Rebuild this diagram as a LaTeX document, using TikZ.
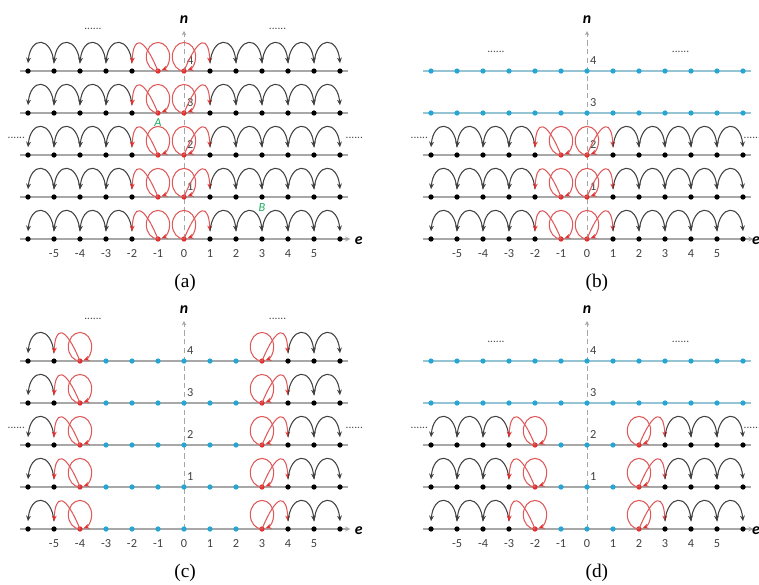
\documentclass[tikz,border=0pt]{standalone}
\usepackage{fontspec}
\setmainfont{Liberation Serif}
\newfontfamily\numfont{Carlito}
\usetikzlibrary{arrows.meta}
\definecolor{hopred}{RGB}{226,48,48}
\definecolor{loopred}{RGB}{222,90,90}
\definecolor{siteblue}{RGB}{38,166,212}
\definecolor{linegray}{RGB}{168,168,168}
\definecolor{lineblue}{RGB}{150,196,212}
\definecolor{labgreen}{RGB}{30,170,95}

\def\rs{1.615}    % row spacing
\def\lift{0.156cm} % arc ends above the sites

% row with hops: #1 panel, #2 row, #3 left red site, #4 right red site
\newcommand{\hoprow}[4]{%
  \pgfmathsetmacro\yy{#2*\rs}
  \draw[rowline] (-6.3,\yy) -- (6.3,\yy);
  \foreach \k in {-6,...,6}{
    \pgfmathtruncatemacro\i{\k+6}
    \ifnum\k<#3\relax \def\dc{black}\else
      \ifnum\k>#4\relax \def\dc{black}\else
        \ifnum\k=#3\relax \def\dc{hopred}\else
          \ifnum\k=#4\relax \def\dc{hopred}\else \def\dc{siteblue}\fi\fi\fi\fi
    \node[site=\dc] (#1#2x\i) at (\k,\yy) {};
  }
  % hops to the left
  \pgfmathtruncatemacro\lm{#3-1}
  \foreach \k in {-5,...,\lm}{
    \pgfmathtruncatemacro\i{\k+6}\pgfmathtruncatemacro\j{\k+5}
    \draw[hop] ([yshift=\lift]#1#2x\i.center) .. controls +(-0.1,1.05) and +(0.1,1.05) .. ([yshift=\lift]#1#2x\j.center);
  }
  \pgfmathtruncatemacro\i{#3+6}\pgfmathtruncatemacro\j{#3+5}
  \draw[hopr] (#1#2x\i.center) .. controls +(-0.6,1.45) and +(0.05,1.0) .. ([yshift=\lift]#1#2x\j.center);
  \draw[loopr] (#1#2x\i.center) arc[start angle=270,end angle=-72,x radius=0.45,y radius=0.55];
  % hops to the right
  \pgfmathtruncatemacro\i{#4+6}\pgfmathtruncatemacro\j{#4+7}
  \draw[hopr] (#1#2x\i.center) .. controls +(0.6,1.45) and +(-0.05,1.0) .. ([yshift=\lift]#1#2x\j.center);
  \draw[loopr] (#1#2x\i.center) arc[start angle=270,end angle=-72,x radius=0.45,y radius=0.55];
  \pgfmathtruncatemacro\rp{#4+1}
  \foreach \k in {\rp,...,5}{
    \pgfmathtruncatemacro\i{\k+6}\pgfmathtruncatemacro\j{\k+7}
    \draw[hop] ([yshift=\lift]#1#2x\i.center) .. controls +(0.1,1.05) and +(-0.1,1.05) .. ([yshift=\lift]#1#2x\j.center);
  }
}

% row of empty sites: #1 panel, #2 row
\newcommand{\siterow}[2]{%
  \pgfmathsetmacro\yy{#2*\rs}
  \draw[rowline,draw=lineblue] (-6.3,\yy) -- (6.3,\yy);
  \foreach \k in {-6,...,6}{
    \pgfmathtruncatemacro\i{\k+6}
    \node[site=siteblue] (#1#2x\i) at (\k,\yy) {};
  }
}

% axes, ticks and caption: #1 panel, #2 caption, #3 height of the top dots,
% #4 caption shift, #5 x of the label e, #6 x of the right dots
\newcommand{\panelaxes}[6]{%
  \coordinate (#1o) at (0,0);
  \coordinate (#1top) at (0,8.0);
  \draw[naxis] (#1o) -- (#1top);
  \node[axlab] (#1n) at (0,8.45) {n};
  \coordinate (#1l) at (-6.3,0);
  \coordinate (#1r) at (6.4,0);
  \draw[rowline,-{Stealth[length=3pt,width=3pt]}] (#1l) -- (#1r);
  \node[axlab] (#1e) at (#5,-0.05) {e};
  \foreach \k in {-5,...,5}{
    \pgfmathtruncatemacro\i{\k+6}
    \node[ticklab] (#1t\i) at (\k,-0.55) {\k};
  }
  \foreach \r in {1,...,4}{
    \node[ticklab] (#1h\r) at (0.24,\r*\rs+0.4) {\r};
  }
  \node[etc] (#1d1) at (-3.5,#3) {......};
  \node[etc] (#1d2) at (3.6,#3) {......};
  \node[etc] (#1d3) at (-6.45,3.9) {......};
  \node[etc] (#1d4) at (#6,3.9) {......};
  \node[panelcap] (#1c) at (#4,-1.69) {#2};
}

\begin{document}
\begin{tikzpicture}[x=1cm,y=1cm,
  rowline/.style={draw=linegray,line width=0.8pt},
  site/.style={circle,fill=#1,inner sep=0pt,minimum size=3pt},
  hop/.style={draw=black!75,line width=0.6pt,-{Stealth[length=3.2pt,width=2.8pt]}},
  hopr/.style={draw=loopred,line width=0.6pt,-{Stealth[length=3.2pt,width=2.8pt,color=hopred]}},
  loopr/.style={draw=loopred,line width=0.6pt,-{Stealth[length=3.2pt,width=2.8pt,color=hopred]}},
  naxis/.style={draw=black!35,densely dashed,line width=0.5pt,-{Stealth[length=2.5pt,width=2.5pt]}},
  axlab/.style={font=\numfont\bfseries\itshape\fontsize{9}{9}\selectfont,inner sep=0pt},
  ticklab/.style={font=\numfont\fontsize{7}{7}\selectfont,text=black!75,inner sep=0pt},
  etc/.style={font=\numfont\fontsize{6.5}{6.5}\selectfont,text=black!70,inner sep=0pt},
  panelcap/.style={font=\fontsize{11}{11}\selectfont,inner sep=0pt},
  gname/.style={font=\numfont\itshape\fontsize{7}{7}\selectfont,text=labgreen,inner sep=0pt}]
\useasboundingbox (0,0) rectangle (15.18,11.68);
\clip (0,0) rectangle (15.18,11.68);
% (a)
\begin{scope}[shift={(3.68cm,6.90cm)},x=0.52cm,y=0.52cm]
  \panelaxes{a}{(a)}{8.08}{0.04}{6.72}{6.55}
  \foreach \r in {0,...,4}{\hoprow{a}{\r}{-1}{0}}
  \node[gname] (A) at (-1,3*\rs-0.38) {A};
  \node[gname] (B) at (3,\rs-0.42) {B};
\end{scope}
% (b)
\begin{scope}[shift={(11.74cm,6.90cm)},x=0.52cm,y=0.52cm]
  \panelaxes{b}{(b)}{7.19}{0.38}{6.5}{6.36}
  \foreach \r in {0,...,2}{\hoprow{b}{\r}{-1}{0}}
  \foreach \r in {3,4}{\siterow{b}{\r}}
\end{scope}
% (c)
\begin{scope}[shift={(3.68cm,1.10cm)},x=0.52cm,y=0.52cm]
  \panelaxes{c}{(c)}{8.08}{0.04}{6.72}{6.55}
  \foreach \r in {0,...,4}{\hoprow{c}{\r}{-4}{3}}
\end{scope}
% (d)
\begin{scope}[shift={(11.74cm,1.10cm)},x=0.52cm,y=0.52cm]
  \panelaxes{d}{(d)}{7.19}{0.38}{6.5}{6.36}
  \foreach \r in {0,...,2}{\hoprow{d}{\r}{-2}{2}}
  \foreach \r in {3,4}{\siterow{d}{\r}}
\end{scope}
\end{tikzpicture}
\end{document}
